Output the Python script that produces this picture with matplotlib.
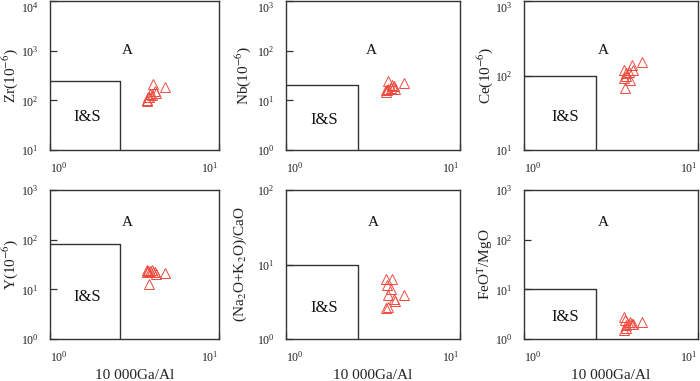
import math

import matplotlib
matplotlib.use("Agg")
import matplotlib.pyplot as plt
from matplotlib.ticker import FixedLocator, LogFormatterMathtext, NullLocator

plt.rcParams["font.family"] = ["Liberation Serif", "DejaVu Serif"]
plt.rcParams["mathtext.fontset"] = "stix"

# 10000Ga/Al for each sample
ga_al = [3.76, 4.05, 3.79, 4.00, 3.88, 4.79, 4.16, 4.23, 3.84, 3.76]

zr = [103, 216, 116, 126, 136, 184, 153, 140, 116, 95]
nb = [15, 20, 16, 18, 24, 22, 19, 17, 17, 16]
ce = [119, 87, 69, 113, 98, 153, 138, 119, 108, 92]
y_el = [24, 22, 23, 24, 23, 21, 22, 20.5, 13, 22]
alk_cao = [6.4, 6.4, 5.3, 4.7, 3.85, 3.85, 3.4, 3.2, 2.7, 2.6]
feo_mgo = [2.8, 2.2, 2.4, 2.0, 1.9, 2.25, 2.05, 2.0, 1.65, 1.55]

ylabels = ["Zr(10$^{-6}$)", "Nb(10$^{-6}$)", "Ce(10$^{-6}$)",
           "Y(10$^{-6}$)", "(Na$_2$O+K$_2$O)/CaO", "FeO$^{\\mathrm{T}}$/MgO"]
ylims = [(10, 1e4), (1, 1e3), (10, 1e3), (1, 1e3), (1, 1e2), (1, 1e3)]
# Whalen et al. (1987) I&S field boundaries
box_x = 2.6
box_y = [250, 20, 100, 80, 10, 10]
series = [zr, nb, ce, y_el, alk_cao, feo_mgo]

# label positions (axes fraction)
a_pos = [(0.455, 0.67), (0.49, 0.67), (0.455, 0.67),
         (0.455, 0.785), (0.5, 0.785), (0.455, 0.785)]
is_pos = [(0.22, 0.22), (0.22, 0.20), (0.235, 0.22),
          (0.22, 0.28), (0.22, 0.21), (0.235, 0.15)]
ylab_x = [-0.237, -0.247, -0.224, -0.235, -0.264, -0.224]

fig = plt.figure(figsize=(7, 3.81), dpi=100)
lefts = [50, 286, 524]
widths = [169, 174, 174]
tops = [1, 190]
H = 149

edge = "#333333"
red = "#ee4a3e"

for i in range(6):
    r, c = divmod(i, 3)
    ax = fig.add_axes([lefts[c] / 700, 1 - (tops[r] + H) / 381,
                       widths[c] / 700, H / 381])
    ax.set_xscale("log")
    ax.set_yscale("log")
    ax.set_xlim(1, 10)
    lo, hi = ylims[i]
    ax.set_ylim(lo, hi)

    decades = [10.0 ** k for k in range(round(math.log10(lo)), round(math.log10(hi)) + 1)]
    ax.yaxis.set_major_locator(FixedLocator(decades))
    ax.xaxis.set_major_locator(FixedLocator([1, 10]))
    ax.xaxis.set_minor_locator(NullLocator())
    ax.yaxis.set_minor_locator(NullLocator())
    ax.xaxis.set_major_formatter(LogFormatterMathtext())
    ax.yaxis.set_major_formatter(LogFormatterMathtext())
    ax.tick_params(axis="both", direction="in", length=5, width=0.9,
                   color=edge, labelsize=8.5, labelcolor="#222222")
    ax.tick_params(axis="x", pad=8)
    ax.tick_params(axis="y", pad=8)

    # x labels sit inside the axis span, as in the source figure
    xl = ax.get_xticklabels()
    xl[0].set_ha("left")
    xl[-1].set_ha("right")
    # top-row top tick label sits just inside the figure
    if r == 0:
        ax.get_yticklabels()[-1].set_va("top")

    for sp in ax.spines.values():
        sp.set_color(edge)
        sp.set_linewidth(1.0)

    ax.plot([1, box_x, box_x], [box_y[i], box_y[i], lo], color=edge, lw=1.0)

    ax.plot(ga_al, series[i], linestyle="none", marker="^", markersize=7.5,
            markerfacecolor="none", markeredgecolor=red, markeredgewidth=0.7)

    ax.text(*a_pos[i], "A", transform=ax.transAxes, fontsize=11,
            ha="center", va="center", color="#111111")
    ax.text(*is_pos[i], "I&S", transform=ax.transAxes, fontsize=12,
            ha="center", va="center", color="#111111")

    ax.set_ylabel(ylabels[i], fontsize=11, color="#222222")
    ax.yaxis.label.set_va("center")
    ax.yaxis.set_label_coords(ylab_x[i], 0.5)
    if r == 1:
        ax.set_xlabel("10 000Ga/Al", fontsize=11, labelpad=3, color="#222222")

fig.savefig("out.png", dpi=100)
